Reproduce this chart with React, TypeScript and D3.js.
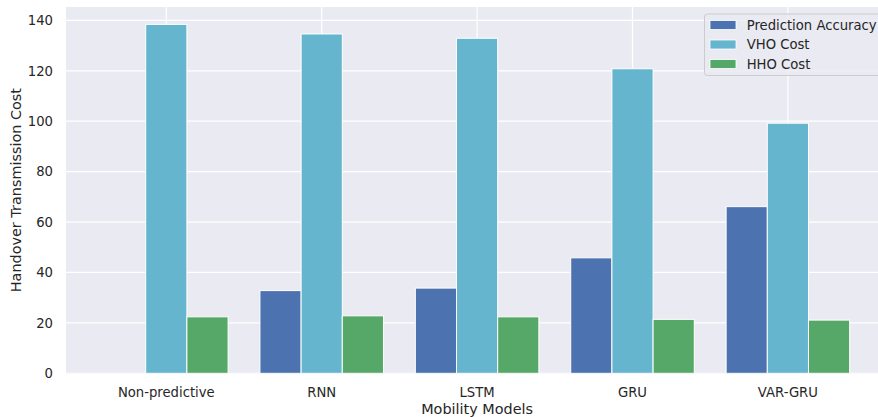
import React from "react";
import * as d3 from "d3";

const categories = ["Non-predictive", "RNN", "LSTM", "GRU", "VAR-GRU"];
const seriesNames = ["Prediction Accuracy", "VHO Cost", "HHO Cost"];
const accuracy = [0, 32.8, 33.8, 45.8, 66.1];
const vhoCost = [138.4, 134.6, 132.9, 120.8, 99.2];
const hhoCost = [22.4, 22.8, 22.4, 21.4, 21.1];
const yTicks = [0, 20, 40, 60, 80, 100, 120, 140];
const colors = ["#4c72b0", "#64b5cd", "#55a868"];

const W = 878;
const H = 417;
const plotLeft = 66;
const plotRight = 888.2;
const plotTop = 7;
const plotBottom = 373.3;
const barW = 0.265;
const FONT = "DejaVu Sans, sans-serif";
const TXT = "#262626";

export default function App() {
  const series = [accuracy, vhoCost, hhoCost];
  const x = d3.scaleLinear().domain([-0.6455, 4.6455]).range([plotLeft, plotRight]);
  const y = d3.scaleLinear().domain([0, 145.3]).range([plotBottom, plotTop]);

  return (
    <svg width={W} height={H} style={{ position: "absolute", left: 0, top: 0 }} fontFamily={FONT}>
      <defs>
        <clipPath id="plotclip">
          <rect x={plotLeft} y={plotTop} width={plotRight - plotLeft} height={plotBottom - plotTop} />
        </clipPath>
      </defs>
      <rect x={plotLeft} y={plotTop} width={plotRight - plotLeft} height={plotBottom - plotTop} fill="#eaeaf2" />
      <g clipPath="url(#plotclip)">
        {yTicks.map((t) => (
          <line key={"gy" + t} x1={plotLeft} x2={plotRight} y1={y(t)} y2={y(t)} stroke="#ffffff" strokeWidth={1.2} />
        ))}
        {categories.map((c, i) => (
          <line key={"gx" + c} x1={x(i)} x2={x(i)} y1={plotTop} y2={plotBottom} stroke="#ffffff" strokeWidth={1.2} />
        ))}
        {series.map((vals, k) =>
          vals.map((v, i) => {
            const x0 = x(i + (k - 1) * barW - barW / 2);
            const x1 = x(i + (k - 1) * barW + barW / 2);
            return (
              <rect
                key={"b" + k + "-" + i}
                x={x0}
                y={y(v)}
                width={x1 - x0}
                height={y(0) - y(v)}
                fill={colors[k]}
                stroke="#ffffff"
                strokeWidth={1}
              />
            );
          })
        )}
      </g>
      {yTicks.map((t) => (
        <text key={"ty" + t} x={53} y={y(t)} dy="0.36em" textAnchor="end" fontSize={13.2} fill={TXT}>
          {t}
        </text>
      ))}
      {categories.map((c, i) => (
        <text key={"tx" + c} x={x(i)} y={396.5} textAnchor="middle" fontSize={13.2} fill={TXT}>
          {c}
        </text>
      ))}
      <text x={(plotLeft + plotRight) / 2} y={413.5} textAnchor="middle" fontSize={14.4} fill={TXT}>
        Mobility Models
      </text>
      <text
        transform={`translate(21,${(plotTop + plotBottom) / 2}) rotate(-90)`}
        textAnchor="middle"
        fontSize={14.4}
        fill={TXT}
      >
        Handover Transmission Cost
      </text>
      <g>
        <rect x={704.5} y={14} width={200} height={61.5} rx={3} fill="#eaeaf2" fillOpacity={0.8} stroke="#cccccc" strokeWidth={1} />
        {seriesNames.map((n, k) => (
          <g key={"lg" + n}>
            <rect x={710} y={20.5 + k * 19.5} width={26} height={9} fill={colors[k]} stroke="#ffffff" strokeWidth={0.8} />
            <text x={746.7} y={25 + k * 19.5} dy="0.36em" fontSize={13.2} fill={TXT}>
              {n}
            </text>
          </g>
        ))}
      </g>
    </svg>
  );
}
